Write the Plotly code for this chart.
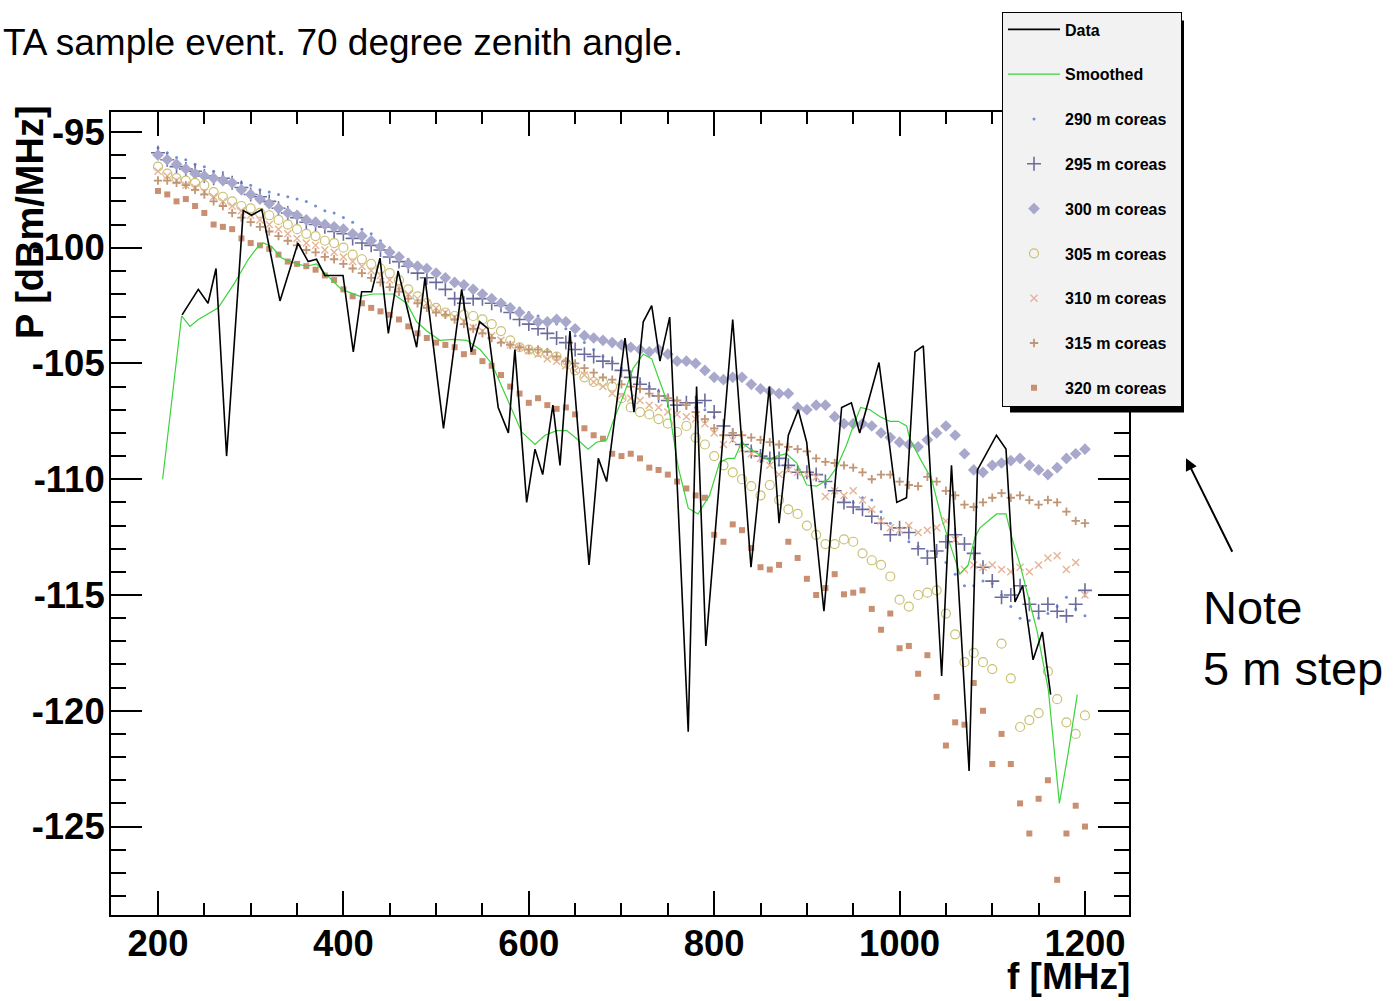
import plotly.graph_objects as go

# ---------------- data ----------------
freq_sim = list(range(200, 1201, 10))

p290 = [-95.7, -95.9, -96.1, -96.2, -96.4, -96.5, -96.7, -96.9, -97.1, -97.2,
        -97.3, -97.5, -97.6, -97.7, -97.8, -97.9, -98.0, -98.2, -98.4, -98.5,
        -98.7, -98.9, -99.2, -99.4, -99.7, -100.0, -100.3, -100.5, -100.8, -101.0,
        -101.2, -101.4, -101.6, -101.8, -101.9, -102.0, -102.2, -102.3, -102.5, -102.6,
        -102.8, -102.95, -103.1, -103.3, -103.5, -103.8, -104.1, -104.4, -104.7, -104.9,
        -105.2, -105.5, -105.8, -106.0, -106.2, -106.4, -106.6, -106.7, -106.9, -107.0,
        -107.3, -107.7, -108.0, -108.4, -108.7, -108.9, -109.2, -109.4, -109.5, -109.6,
        -109.7, -109.8, -110.2, -110.6, -110.9, -111.0, -110.8, -110.9, -111.4, -111.9,
        -112.4, -112.7, -112.9, -113.1, -113.2, -113.6, -114.1, -114.6, -114.6, -114.4,
        -114.5, -115.0, -115.5, -116.0, -116.1, -116.0, -115.8, -115.5, -115.1, -115.6,
        -115.9]

p295 = [-95.9, -96.2, -96.5, -96.6, -96.7, -96.9, -97.0, -97.0, -97.2, -97.4,
        -97.7, -97.8, -98.0, -98.3, -98.5, -98.7, -98.9, -99.0, -99.1, -99.3,
        -99.4, -99.6, -99.8, -99.9, -100.1, -100.4, -100.6, -100.8, -101.1, -101.3,
        -101.5, -101.8, -102.2, -102.4, -102.2, -102.2, -102.4, -102.5, -102.8, -103.1,
        -103.3, -103.5, -103.7, -103.9, -104.1, -104.4, -104.6, -104.7, -104.9, -105.0,
        -105.3, -105.6, -105.9, -106.1, -106.4, -106.6, -106.8, -106.7, -106.7, -106.6,
        -107.1, -107.7, -108.1, -108.5, -108.8, -109.0, -109.1, -109.1, -109.4, -109.7,
        -109.7, -109.8, -110.1, -110.5, -111.0, -111.2, -111.3, -111.6, -111.9, -112.4,
        -112.1, -112.3, -113.0, -113.4, -113.1, -112.7, -112.4, -112.8, -113.2, -113.8,
        -114.4, -115.1, -115.0, -114.6, -115.4, -115.7, -115.4, -115.7, -115.9, -115.4,
        -114.8]

p300 = [-96.0, -96.2, -96.4, -96.6, -96.8, -96.9, -97.0, -97.1, -97.2, -97.5,
        -97.7, -97.9, -98.1, -98.3, -98.5, -98.6, -98.8, -98.9, -99.0, -99.1,
        -99.2, -99.4, -99.5, -99.7, -99.95, -100.2, -100.4, -100.7, -100.8, -100.9,
        -101.1, -101.3, -101.5, -101.6, -101.8, -102.0, -102.2, -102.4, -102.6, -102.8,
        -103.0, -103.2, -103.2, -103.1, -103.2, -103.5, -103.8, -103.9, -104.0, -104.1,
        -104.2, -104.3, -104.4, -104.5, -104.4, -104.6, -104.9, -104.9, -105.0, -105.3,
        -105.6, -105.7, -105.6, -105.6, -105.9, -106.1, -106.2, -106.3, -106.3, -106.9,
        -107.0, -106.8, -106.8, -107.3, -107.6, -107.6, -107.6, -107.7, -108.0, -108.2,
        -108.4, -108.5, -108.6, -108.3, -108.0, -107.7, -108.1, -108.9, -109.6, -109.7,
        -109.4, -109.3, -109.2, -109.1, -109.4, -109.6, -109.8, -109.5, -109.1, -108.9,
        -108.7]

p305 = [-96.5, -96.8, -97.0, -97.1, -97.2, -97.3, -97.6, -97.8, -98.0, -98.2,
        -98.3, -98.5, -98.6, -98.8, -99.0, -99.2, -99.4, -99.5, -99.7, -99.8,
        -100.0, -100.3, -100.5, -100.7, -100.9, -101.1, -101.4, -101.8, -102.1, -102.4,
        -102.6, -102.8, -102.95, -102.9, -102.95, -103.1, -103.3, -103.6, -104.0, -104.3,
        -104.4, -104.5, -104.6, -104.7, -105.0, -105.3, -105.6, -105.8, -105.8, -106.0,
        -106.5, -106.9, -107.1, -107.2, -107.4, -107.6, -107.96, -107.7, -108.2, -108.5,
        -109.0, -109.4, -109.7, -110.0, -110.3, -110.7, -110.25, -110.9, -111.3, -111.5,
        -112.0, -112.4, -112.8, -112.8, -112.6, -112.7, -113.2, -113.5, -113.7, -114.2,
        -115.2, -115.5, -115.0, -114.9, -114.8, -115.8, -116.7, -117.9, -117.5, -117.9,
        -118.2, -117.1, -118.6, -120.7, -120.4, -120.1, -118.3, -119.5, -120.5, -121.0,
        -120.2]

p310 = [-96.7, -96.9, -97.1, -97.3, -97.4, -97.6, -97.8, -98.0, -98.2, -98.4,
        -98.6, -98.8, -99.0, -99.2, -99.4, -99.6, -99.8, -99.9, -100.1, -100.2,
        -100.4, -100.6, -100.8, -101.0, -101.2, -101.4, -101.7, -102.0, -102.2, -102.4,
        -102.6, -102.8, -103.0, -103.2, -103.45, -103.6, -103.8, -104.0, -104.2, -104.3,
        -104.45, -104.6, -104.8, -104.9, -105.1, -105.3, -105.5, -105.8, -106.0, -106.3,
        -106.4, -106.5, -106.6, -106.8, -106.9, -107.1, -107.2, -107.3, -107.4, -107.6,
        -108.0, -108.5, -108.3, -108.7, -108.9, -109.1, -109.4, -109.8, -109.6, -109.7,
        -109.8, -109.9, -110.75, -110.5, -110.7, -110.5, -110.9, -111.3, -111.8, -112.1,
        -112.2, -112.0, -112.3, -112.2, -112.1, -111.8, -112.6, -113.9, -113.7, -113.8,
        -113.7, -113.9, -114.0, -113.8, -114.0, -113.7, -113.4, -113.3, -113.9, -113.6,
        -115.0]

p315 = [-97.1, -97.1, -97.2, -97.3, -97.5, -97.7, -98.0, -98.2, -98.5, -98.7,
        -98.9, -99.1, -99.3, -99.5, -99.7, -99.9, -100.1, -100.2, -100.4, -100.5,
        -100.7, -100.9, -101.1, -101.3, -101.5, -101.7, -101.9, -102.2, -102.4, -102.6,
        -102.8, -102.9, -103.1, -103.3, -103.5, -103.7, -103.9, -104.1, -104.2, -104.3,
        -104.4, -104.4, -104.5, -104.7, -104.9, -105.0, -105.2, -105.4, -105.6, -105.7,
        -105.9, -106.0, -106.1, -106.3, -106.4, -106.5, -106.6, -106.8, -107.1, -107.4,
        -107.8, -108.1, -108.0, -108.1, -108.2, -108.3, -108.4, -108.5, -108.6, -108.7,
        -108.8, -109.1, -109.25, -109.3, -109.4, -109.5, -109.7, -110.0, -109.8, -109.8,
        -110.1, -110.25, -110.3, -109.9, -110.1, -110.5, -110.7, -111.1, -111.2, -111.0,
        -110.8, -110.6, -110.8, -110.7, -110.9, -111.1, -110.9, -111.0, -111.4, -111.8,
        -111.9]

p320 = [-97.55, -97.7, -98.0, -97.9, -98.2, -98.5, -99.0, -99.1, -99.2, -99.6,
        -99.8, -99.9, -100.05, -100.3, -100.6, -100.7, -100.8, -100.95, -101.2, -101.4,
        -101.8, -102.1, -102.4, -102.6, -102.75, -102.9, -103.1, -103.4, -103.7, -103.9,
        -104.1, -104.2, -104.3, -104.6, -104.5, -104.9, -105.1, -105.5, -106.0, -106.3,
        -106.7, -106.5, -106.8, -106.96, -106.9, -107.2, -107.8, -108.1, -108.25, -108.9,
        -109.0, -108.9, -109.1, -109.5, -109.6, -109.8, -110.1, -110.4, -110.7, -110.8,
        -112.4, -112.7, -111.95, -112.2, -112.97, -113.8, -113.9, -113.7, -112.7, -113.4,
        -114.3, -115.0, -114.7, -114.1, -114.97, -114.9, -114.8, -115.6, -116.5, -115.8,
        -117.3, -117.2, -118.4, -117.6, -119.4, -121.5, -120.5, -120.6, -118.8, -120.0,
        -122.3, -121.0, -122.3, -124.0, -125.3, -123.8, -123.0, -127.3, -125.3, -124.1,
        -125.0]

freq_data = [226, 243.5, 254, 262.6, 274, 292, 301, 312, 331.6, 351,
             362, 371, 380, 399.6, 410.7, 419.7, 430.5, 439.5, 448.5, 459,
             479, 488, 508, 527.6, 538, 547, 556, 567, 578, 585,
             597.7, 606.7, 615, 626, 633.7, 644.4, 665, 675, 684, 703.8,
             713.5, 723.5, 732.6, 741.5, 752, 772, 781, 791, 820, 839.7,
             859.5, 870, 880, 890.7, 899.8, 918.4, 937.5, 948, 957, 977.8,
             997, 1007.5, 1016.6, 1025.6, 1045.4, 1056, 1075, 1084, 1104.5, 1114.8,
             1124.5, 1132.8, 1144, 1154, 1163]
p_data = [-102.9, -101.8, -102.4, -100.9, -109.0, -98.4, -98.6, -98.35, -102.3, -99.8,
          -100.6, -100.5, -101.2, -101.2, -104.5, -101.9, -101.9, -100.45, -103.7, -101.0,
          -104.3, -101.3, -107.8, -101.8, -104.5, -103.2, -103.5, -106.9, -108.0, -104.4,
          -111.0, -108.7, -109.8, -106.8, -109.4, -103.6, -113.7, -109.1, -110.1, -103.9,
          -107.1, -103.2, -102.5, -104.9, -103.0, -120.9, -106.0, -117.2, -103.1, -113.8,
          -106.0, -111.9, -108.1, -107.0, -108.4, -115.7, -106.9, -106.7, -108.0, -104.96,
          -111.0, -110.8, -104.5, -104.24, -118.5, -109.4, -122.6, -109.6, -108.1, -108.7,
          -115.3, -114.6, -117.8, -116.6, -119.3]

freq_smooth = [205, 225.5, 234.5, 243.5, 265, 283, 297.4, 308, 313.6, 322.6,
               333.4, 349.6, 360.4, 371, 380, 398, 418, 432, 453.8, 468.3,
               479, 490, 504, 518.6, 533, 547.4, 560, 569, 579.7, 592.3,
               606.7, 617.5, 630, 641, 651.7, 664, 673, 684, 691, 702,
               712.7, 723.5, 732.6, 741.5, 750.5, 761.3, 772, 782.5, 795, 806,
               815, 822, 829.7, 838.6, 849.4, 860, 867.4, 878, 889, 899.8,
               910.5, 923, 932, 943, 950, 958, 968, 979, 989.6, 998.6,
               1007.6, 1011, 1022, 1034.6, 1045.4, 1054.4, 1065, 1074, 1081.3, 1086.7,
               1104.7, 1114.8, 1121, 1130, 1139, 1148, 1160.5, 1172.4, 1182, 1191.7]
p_smooth = [-110.0, -102.95, -103.4, -103.1, -102.6, -101.5, -100.5, -99.95, -99.8, -99.95,
            -100.45, -100.7, -100.8, -100.7, -101.1, -101.8, -102.1, -102.0, -102.0, -102.4,
            -103.2, -103.6, -104.0, -103.96, -104.0, -104.4, -105.0, -105.8, -106.8, -107.96,
            -108.5, -108.1, -107.9, -107.9, -108.25, -108.7, -108.4, -108.3, -107.5, -106.4,
            -105.2, -104.6, -104.8, -105.8, -106.8, -109.5, -111.25, -111.5, -110.7, -109.25,
            -109.1, -109.1, -108.4, -108.7, -108.96, -109.2, -109.0, -108.9, -109.3, -110.25,
            -110.3, -110.0, -109.5, -108.5, -107.7, -106.9, -107.0, -107.3, -107.5, -107.5,
            -107.7, -108.25, -109.1, -110.0, -111.7, -112.8, -114.1, -113.7, -112.5, -112.1,
            -111.5, -111.5, -112.5, -113.7, -115.1, -116.5, -119.1, -124.0, -121.8, -119.3]

x_ticks = [200, 400, 600, 800, 1000, 1200]
y_ticks = [-95, -100, -105, -110, -115, -120, -125]
y_tick_text = ["-95", "-100", "-105", "-110", "-115", "-120", "-125"]

# ---------------- figure ----------------
W, H = 1395, 1001
L, R, T, B = 111, 1129, 108, 915


def px(xp):
    return (xp - L) / (R - L)


def py(yp):
    return (B - yp) / (B - T)


FONT = "Liberation Sans, Arial, sans-serif"
PAD = "\u00a0\u00a0"

sim_series = [
    ("290 m coreas", p290, dict(symbol="circle", size=3, color="#6f8fd8")),
    ("295 m coreas", p295, dict(symbol="cross-thin", size=10, color="#6c6c9c",
                                line=dict(width=1.6, color="#6c6c9c"))),
    ("300 m coreas", p300, dict(symbol="diamond", size=9, color="#a8a8cc")),
    ("305 m coreas", p305, dict(symbol="circle-open", size=9, color="#c9c173",
                                line=dict(width=1.2, color="#c9c173"))),
    ("310 m coreas", p310, dict(symbol="x-thin", size=7, color="#e6b394",
                                line=dict(width=1.4, color="#e6b394"))),
    ("315 m coreas", p315, dict(symbol="cross-thin", size=6, color="#c09676",
                                line=dict(width=1.8, color="#c09676"))),
    ("320 m coreas", p320, dict(symbol="square", size=6, color="#c98f72")),
]

fig = go.Figure()

for i, (name, vals, mk) in enumerate(sim_series):
    fig.add_trace(go.Scatter(x=freq_sim, y=vals, mode="markers", name=name + PAD,
                             marker=mk, legendgroup=name, legendrank=10 + i))

fig.add_trace(go.Scatter(x=freq_smooth, y=p_smooth, mode="lines", name="Smoothed",
                         line=dict(color="#3ad43a", width=1.2),
                         legendgroup="Smoothed", legendrank=2))
fig.add_trace(go.Scatter(x=freq_data, y=p_data, mode="lines", name="Data",
                         line=dict(color="black", width=1.6),
                         legendgroup="Data", legendrank=1))

axis_common = dict(showline=True, linecolor="black", linewidth=2, mirror="ticks",
                   ticks="inside", tickcolor="black", tickwidth=2,
                   showgrid=False, zeroline=False,
                   tickfont=dict(family=FONT, size=36.5, color="black", weight="bold"))

fig.update_xaxes(range=[149.3, 1247.5], tickmode="array", tickvals=x_ticks,
                 ticklen=24, ticklabelstandoff=-5,
                 minor=dict(tickvals=list(range(150, 1250, 50)), ticklen=12,
                            tickwidth=2, tickcolor="black", ticks="inside"),
                 **axis_common)
fig.update_yaxes(range=[-128.82, -94.14], tickmode="array", tickvals=y_ticks,
                 ticktext=y_tick_text, ticklen=31, ticklabelstandoff=-3,
                 minor=dict(tickvals=list(range(-128, -94, 1)), ticklen=15,
                            tickwidth=2, tickcolor="black", ticks="inside"),
                 **axis_common)

fig.update_layout(
    width=W, height=H,
    margin=dict(l=L, r=W - R, t=T, b=H - B, pad=0),
    paper_bgcolor="white", plot_bgcolor="white",
    font=dict(family=FONT, color="black"),
    showlegend=True,
    legend=dict(x=px(1002), y=py(7), xanchor="left", yanchor="top",
                bgcolor="#f2f2f2", bordercolor="black", borderwidth=1,
                font=dict(family=FONT, size=16, color="black", weight="bold"),
                traceorder="grouped", tracegroupgap=21, itemwidth=52,
                itemsizing="trace"),
    shapes=[dict(type="rect", xref="paper", yref="paper",
                 x0=px(1010), x1=px(1184), y0=py(410), y1=py(16),
                 fillcolor="black", line=dict(width=0), layer="above")],
    annotations=[
        dict(text="TA sample event. 70 degree zenith angle.", xref="paper", yref="paper",
             x=px(1), y=py(38), xanchor="left", yanchor="middle", showarrow=False,
             font=dict(family=FONT, size=37, color="black")),
        dict(text="f [MHz]", xref="paper", yref="paper", x=px(1132), y=py(977),
             xanchor="right", yanchor="middle", showarrow=False,
             font=dict(family=FONT, size=37, color="black", weight="bold")),
        dict(text="P [dBm/MHz]", xref="paper", yref="paper", x=px(30), y=py(99),
             xanchor="center", yanchor="top", showarrow=False, textangle=-90,
             font=dict(family=FONT, size=38, color="black", weight="bold")),
        dict(text="Note<br>5 m step", xref="paper", yref="paper", x=px(1201), y=py(637),
             xanchor="left", yanchor="middle", align="left", showarrow=False,
             font=dict(family=FONT, size=47, color="black")),
        dict(text="", xref="paper", yref="paper", x=px(1186), y=py(456),
             showarrow=True, ax=47, ay=95, arrowhead=2, arrowsize=1.2, arrowwidth=2,
             arrowcolor="black"),
    ],
)

fig.write_html("out.html")
